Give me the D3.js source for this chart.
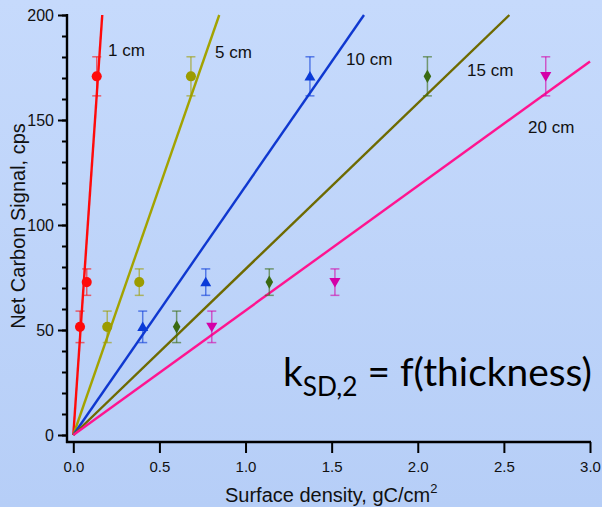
<!DOCTYPE html>
<html><head><meta charset="utf-8">
<script src="https://cdn.jsdelivr.net/npm/d3@7"></script>
<style>html,body{margin:0;padding:0;background:#bfd5fa;}svg{display:block;}</style>
</head><body>
<svg id="c" width="602" height="507"></svg>
<script>
// ---- data ----
const thicknessLabels = ["1 cm", "5 cm", "10 cm", "15 cm", "20 cm"];
const signal = [51.5, 72.8, 170.8];          // Net carbon signal (cps), same for every thickness
const signalErr = [7.5, 6.3, 9.3];           // +/- error
const density1cm  = [0.039, 0.078, 0.136];
const density5cm  = [0.197, 0.383, 0.683];
const density10cm = [0.403, 0.769, 1.374];
const density15cm = [0.600, 1.138, 2.056];
const density20cm = [0.804, 1.519, 2.743];
const fitSlopes = [1190, 236, 118.5, 79, 59.3]; // cps per gC/cm2, lines through origin
const xTicks = [0, 0.5, 1.0, 1.5, 2.0, 2.5, 3.0];
const yTicks = [0, 50, 100, 150, 200];
const yMinorTicks = d3.range(0, 201, 10);

const densities = [density1cm, density5cm, density10cm, density15cm, density20cm];

// ---- styling ----
const lineColors   = ["#ff0a0a", "#a3a300", "#0f38d0", "#6e6a00", "#ff1490"];
const markerColors = ["#ff0a0a", "#9c9c00", "#0a3ad8", "#3a6a12", "#d400a8"];
const markerTypes  = ["circle", "circle", "up", "diamond", "down"];
const labelPos = [[108, 56], [215, 58], [346, 65], [467, 76], [528, 133]];

const svg = d3.select("#c");
const defs = svg.append("defs");
const grad = defs.append("linearGradient").attr("id", "bg").attr("x1", 0).attr("y1", 0).attr("x2", 0).attr("y2", 1);
grad.append("stop").attr("offset", "0%").attr("stop-color", "#c6dafc");
grad.append("stop").attr("offset", "100%").attr("stop-color", "#b6cef7");
svg.append("rect").attr("width", 602).attr("height", 507).attr("fill", "url(#bg)");

const x = d3.scaleLinear().domain([0, 3]).range([73.3, 590]);
const y = d3.scaleLinear().domain([0, 200]).range([435, 15]);
const axisX0 = 67, axisY0 = 442;
const font = "'Liberation Sans', Arial, sans-serif";

// fit lines
const plot = svg.append("g");
fitSlopes.forEach((k, i) => {
  const xe = Math.min(3.0, 200 / k);
  plot.append("line")
    .attr("x1", x(0)).attr("y1", y(0))
    .attr("x2", x(xe)).attr("y2", y(k * xe))
    .attr("stroke", lineColors[i]).attr("stroke-width", 2.4);
});

// error bars + markers
densities.forEach((ds, i) => {
  const g = plot.append("g");
  ds.forEach((dx, j) => {
    const cx = x(dx), top = y(signal[j] + signalErr[j]), bot = y(signal[j] - signalErr[j]);
    const eb = g.append("g").attr("stroke", markerColors[i]).attr("stroke-opacity", 0.6).attr("stroke-width", 1.5);
    eb.append("line").attr("x1", cx).attr("x2", cx).attr("y1", top).attr("y2", bot);
    eb.append("line").attr("x1", cx - 4.5).attr("x2", cx + 4.5).attr("y1", top).attr("y2", top);
    eb.append("line").attr("x1", cx - 4.5).attr("x2", cx + 4.5).attr("y1", bot).attr("y2", bot);
    let sym, rot = 0;
    if (markerTypes[i] === "circle") sym = d3.symbol(d3.symbolCircle, 80);
    else if (markerTypes[i] === "up") sym = d3.symbol(d3.symbolTriangle, 52);
    else if (markerTypes[i] === "down") { sym = d3.symbol(d3.symbolTriangle, 54); rot = 180; }
    else sym = d3.symbol(d3.symbolDiamond, 50);
    g.append("path").attr("d", sym())
      .attr("transform", `translate(${cx},${y(signal[j]) + (markerTypes[i]==="up" ? 1 : markerTypes[i]==="down" ? -1 : 0)}) rotate(${rot})`)
      .attr("fill", markerColors[i]);
  });
  svg.append("text").attr("x", labelPos[i][0]).attr("y", labelPos[i][1])
    .attr("font-family", font).attr("font-size", 17).attr("fill", "#111")
    .text(thicknessLabels[i]);
});

// axes
const yMinor = svg.append("g").attr("transform", `translate(${axisX0},0)`)
  .call(d3.axisLeft(y).tickValues(yMinorTicks).tickSize(5).tickFormat(""));
yMinor.select(".domain").remove();
yMinor.selectAll("line").attr("stroke", "#000").attr("stroke-width", 2);

const yAx = svg.append("g").attr("transform", `translate(${axisX0},0)`)
  .call(d3.axisLeft(y).tickValues(yTicks).tickSize(9).tickPadding(4).tickFormat(d3.format("d")));
yAx.select(".domain").remove();
yAx.selectAll("line").attr("stroke", "#000").attr("stroke-width", 2);
yAx.selectAll("text").attr("font-family", font).attr("font-size", 16).attr("fill", "#111");

const xAx = svg.append("g").attr("transform", `translate(0,${axisY0})`)
  .call(d3.axisBottom(x).tickValues(xTicks).tickSize(11).tickPadding(8).tickFormat(d3.format(".1f")));
xAx.select(".domain").remove();
xAx.selectAll("line").attr("stroke", "#000").attr("stroke-width", 2);
xAx.selectAll("text").attr("font-family", font).attr("font-size", 15).attr("fill", "#111");

svg.append("line").attr("x1", axisX0).attr("x2", axisX0).attr("y1", y(200) - 1).attr("y2", axisY0 + 1)
  .attr("stroke", "#000").attr("stroke-width", 2.4);
svg.append("line").attr("x1", axisX0 - 1).attr("x2", x(3) + 1).attr("y1", axisY0).attr("y2", axisY0)
  .attr("stroke", "#000").attr("stroke-width", 2.4);

// axis titles
svg.append("text").attr("transform", "translate(25,226) rotate(-90)")
  .attr("text-anchor", "middle").attr("font-family", font).attr("font-size", 20).attr("fill", "#111")
  .text("Net Carbon Signal, cps");
const xt = svg.append("text").attr("x", 225).attr("y", 502)
  .attr("font-family", font).attr("font-size", 20).attr("fill", "#111");
xt.append("tspan").text("Surface density, gC/cm");
xt.append("tspan").attr("dy", -9).attr("font-size", 13).text("2");

// annotation
const ann = svg.append("text").attr("x", 283).attr("y", 386)
  .attr("font-family", "Lato, 'Open Sans', sans-serif").attr("font-size", 40).attr("fill", "#000");
ann.append("tspan").text("k");
ann.append("tspan").attr("dy", 10).attr("font-size", 27).text("SD,2");
ann.append("tspan").attr("dy", -10).text(" = f(thickness)");
const w = ann.node().getComputedTextLength();
const s = 309 / w;
ann.attr("font-size", 40 * s);
ann.selectAll("tspan").filter((d, i) => i === 1).attr("font-size", 27 * s);
</script>
</body></html>
